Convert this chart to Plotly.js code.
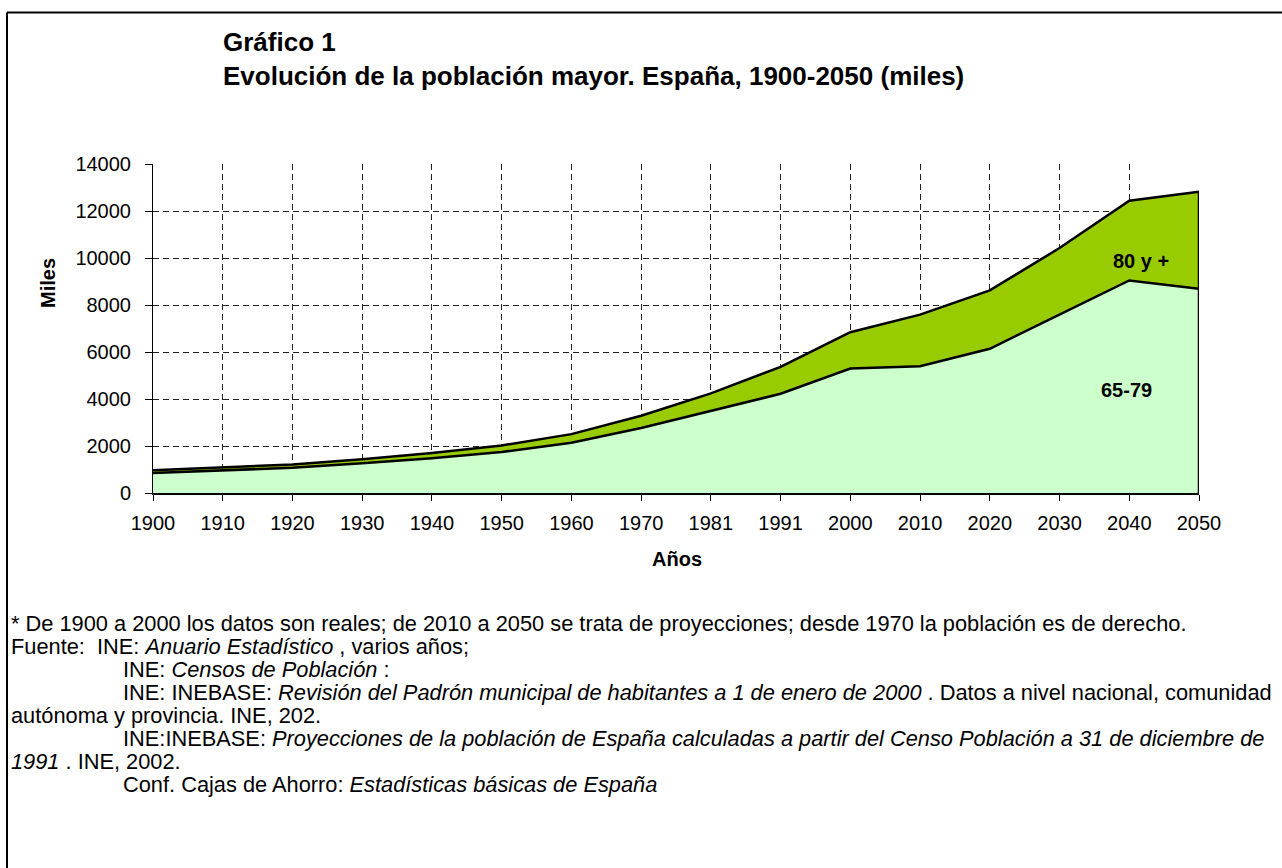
<!DOCTYPE html>
<html>
<head>
<meta charset="utf-8">
<script src="https://cdn.plot.ly/plotly-3.0.1.min.js"></script>
<style>
  html, body { margin: 0; padding: 0; background: #fff; }
  #chart { width: 1282px; height: 868px; }
</style>
</head>
<body>
<div id="chart"></div>
<script>
// ---- Data (thousands of people) ----
const years = ['1900','1910','1920','1930','1940','1950','1960','1970','1981','1991','2000','2010','2020','2030','2040','2050'];
const age65to79 = [852, 973, 1074, 1264, 1482, 1746, 2136, 2767, 3503, 4222, 5296, 5391, 6137, 7578, 9045, 8688];
const age80plus = [115, 133, 143, 177, 218, 277, 369, 523, 734, 1148, 1546, 2201, 2487, 2847, 3396, 4130];
const yTicks = [0, 2000, 4000, 6000, 8000, 10000, 12000, 14000];

const totals = age65to79.map((v, i) => v + age80plus[i]);
const last = years.length - 1;

// ---- Geometry helpers (pixel -> paper) ----
const W = 1282, H = 868;
const M = { l: 153, r: 83, t: 164, b: 375 };
const PW = W - M.l - M.r, PH = H - M.t - M.b;
const px = x => (x - M.l) / PW;
const py = y => (H - M.b - y) / PH;

const FONT = 'Liberation Sans, Arial, sans-serif';

const traces = [
  {
    x: years, y: age65to79, name: '65-79', type: 'scatter', mode: 'lines',
    stackgroup: 'one', fillcolor: '#CCFFCC',
    line: { color: '#000', width: 2.5 }, hoverinfo: 'x+y'
  },
  {
    x: years, y: age80plus, name: '80 y +', type: 'scatter', mode: 'lines',
    stackgroup: 'one', fillcolor: '#99CC00',
    line: { color: '#000', width: 2.5 }, hoverinfo: 'x+y'
  },
  {
    // right closing edge of the stacked areas
    x: [years[last], years[last]], y: [0, totals[last]],
    type: 'scatter', mode: 'lines', showlegend: false, hoverinfo: 'skip',
    line: { color: '#000', width: 2.5 }
  }
];

const fnLeft = 9, fnIndent = 121, fnSize = 21.8;
const footLines = [
  [fnLeft, 623, '* De 1900 a 2000 los datos son reales; de 2010 a 2050 se trata de proyecciones; desde 1970 la población es de derecho.'],
  [fnLeft, 646, 'Fuente:&nbsp;&nbsp;INE: <i>Anuario Estadístico</i> , varios años;'],
  [fnIndent, 669, 'INE: <i>Censos de Población</i> :'],
  [fnIndent, 692, 'INE: INEBASE: <i>Revisión del Padrón municipal de habitantes a 1 de enero de 2000</i> . Datos a nivel nacional, comunidad'],
  [fnLeft, 715, 'autónoma y provincia. INE, 202.'],
  [fnIndent, 738, 'INE:INEBASE: <i>Proyecciones de la población de España calculadas a partir del Censo Población a 31 de diciembre de</i>'],
  [fnLeft, 761, '<i>1991</i> . INE, 2002.'],
  [fnIndent, 784, 'Conf. Cajas de Ahorro: <i>Estadísticas básicas de España</i>']
];

const annotations = footLines.map(([x, y, t]) => ({
  xref: 'paper', yref: 'paper', x: px(x), y: py(y),
  xanchor: 'left', yanchor: 'middle', showarrow: false, align: 'left',
  text: t, font: { family: FONT, size: fnSize, color: '#000' }
}));

annotations.push(
  { xref: 'x', yref: 'y', x: 14.17, y: 9880, text: '<b>80 y +</b>', showarrow: false,
    font: { family: FONT, size: 20, color: '#000' } },
  { xref: 'x', yref: 'y', x: 13.96, y: 4380, text: '<b>65-79</b>', showarrow: false,
    font: { family: FONT, size: 20, color: '#000' } },
  { xref: 'paper', yref: 'paper', x: px(35), y: py(283), text: '<b>Miles</b>', textangle: -90,
    showarrow: false, font: { family: FONT, size: 20, color: '#000' } },
  { xref: 'paper', yref: 'paper', x: px(677), y: py(572), text: '<b>Años</b>',
    showarrow: false, font: { family: FONT, size: 20, color: '#000' } }
);

const layout = {
  width: W, height: H,
  margin: M,
  paper_bgcolor: '#fff', plot_bgcolor: '#fff',
  showlegend: false,
  title: {
    text: '<b>Gráfico 1<br>Evolución de la población mayor. España, 1900-2050 (miles)</b>',
    xref: 'container', yref: 'container',
    x: 223 / W, xanchor: 'left', y: 1 - 51 / H, yanchor: 'top',
    font: { family: FONT, size: 26, color: '#000' }
  },
  xaxis: {
    type: 'category', range: [0, last], fixedrange: true,
    showgrid: true, gridcolor: '#222', gridwidth: 1, griddash: '6px,4px',
    showline: true, linecolor: '#000', linewidth: 2,
    ticks: 'outside', ticklen: 6, tickcolor: '#000', tickwidth: 1,
    ticklabelstandoff: 5,
    tickfont: { family: FONT, size: 20, color: '#000' },
    zeroline: false
  },
  yaxis: {
    range: [0, 14000], tickvals: yTicks, tickformat: 'd', fixedrange: true,
    showgrid: true, gridcolor: '#222', gridwidth: 1, griddash: '6px,4px',
    showline: true, linecolor: '#000', linewidth: 1,
    ticks: 'outside', ticklen: 7, tickcolor: '#000', tickwidth: 1,
    ticklabelstandoff: 10,
    tickfont: { family: FONT, size: 20, color: '#000' },
    zeroline: false
  },
  annotations: annotations,
  shapes: [
    { type: 'line', xref: 'paper', yref: 'paper', x0: px(7), x1: px(1282), y0: py(12.5), y1: py(12.5),
      line: { color: '#000', width: 2 } },
    { type: 'line', xref: 'paper', yref: 'paper', x0: px(7), x1: px(7), y0: py(12.5), y1: py(868),
      line: { color: '#000', width: 2 } }
  ]
};

Plotly.newPlot('chart', traces, layout, { displayModeBar: false, staticPlot: true });
</script>
</body>
</html>
